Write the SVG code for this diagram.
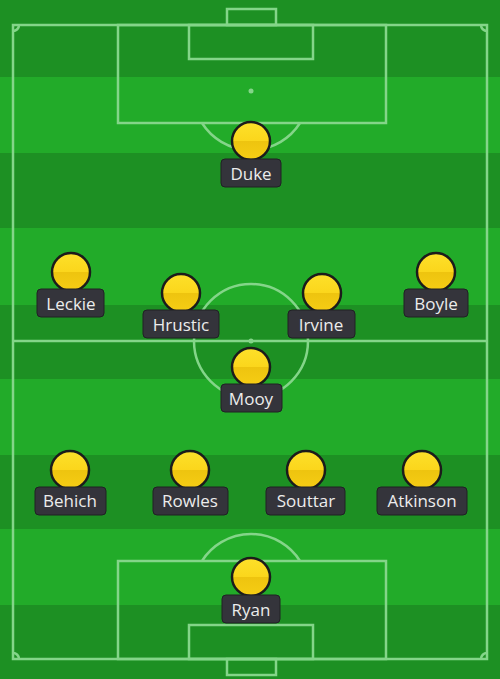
<svg xmlns="http://www.w3.org/2000/svg" width="500" height="679" viewBox="0 0 500 679">
<defs>
<style>
.ln{fill:none;stroke:#84d589;stroke-width:2.5}
.dk{fill:#1d9023}
.lt{fill:#22ab29}
.ball{fill:url(#yg);stroke:#1b1b1b;stroke-width:2.5}
.tag{fill:#34343b;stroke:#202024;stroke-width:1}
.nm{font-family:"Open Sans","Noto Sans",sans-serif;font-size:17px;fill:#ececec;text-anchor:middle}
</style>
<linearGradient id="yg" x1="0" y1="0" x2="0" y2="1">
<stop offset="0" stop-color="#fde02a"/>
<stop offset="0.49" stop-color="#fbd61c"/>
<stop offset="0.51" stop-color="#eec40f"/>
<stop offset="1" stop-color="#f6cd14"/>
</linearGradient>
</defs>
<g id="pitch">
<rect class="dk" x="0" y="0" width="500" height="77"/>
<rect class="lt" x="0" y="77" width="500" height="76"/>
<rect class="dk" x="0" y="153" width="500" height="75"/>
<rect class="lt" x="0" y="228" width="500" height="77"/>
<rect class="dk" x="0" y="305" width="500" height="74"/>
<rect class="lt" x="0" y="379" width="500" height="76"/>
<rect class="dk" x="0" y="455" width="500" height="74"/>
<rect class="lt" x="0" y="529" width="500" height="76"/>
<rect class="dk" x="0" y="605" width="500" height="74"/>
<rect class="ln" x="13" y="25" width="474" height="634"/>
<line class="ln" x1="13" y1="341" x2="487" y2="341"/>
<circle class="ln" cx="251" cy="341" r="57"/>
<circle cx="251" cy="341" r="2.5" fill="#84d589"/>
<rect class="ln" x="227" y="9" width="49" height="16"/>
<rect class="ln" x="189" y="25" width="124" height="34"/>
<rect class="ln" x="118" y="25" width="268" height="98"/>
<circle cx="251" cy="91" r="2.5" fill="#84d589"/>
<path class="ln" d="M202,123 A58,58 0 0 0 300,123"/>
<rect class="ln" x="227" y="659" width="49" height="16"/>
<rect class="ln" x="189" y="625" width="124" height="34"/>
<rect class="ln" x="118" y="561" width="268" height="98"/>
<path class="ln" d="M202,561 A58,58 0 0 1 300,561"/>
<path class="ln" d="M13,31 A6,6 0 0 0 19,25 M481,25 A6,6 0 0 0 487,31 M13,653 A6,6 0 0 1 19,659 M481,659 A6,6 0 0 1 487,653"/>
</g>
<g id="connectors"></g>
<g id="duke"><circle class="ball" cx="251" cy="141" r="19"/><rect class="tag" x="221" y="159" width="60" height="28" rx="4"/><text class="nm" x="251" y="180">Duke</text></g>
<g id="leckie"><circle class="ball" cx="71" cy="272" r="19"/><rect class="tag" x="37" y="289" width="67" height="28" rx="4"/><text class="nm" x="71" y="310">Leckie</text></g>
<g id="hrustic"><circle class="ball" cx="181" cy="293" r="19"/><rect class="tag" x="143" y="310" width="76" height="28" rx="4"/><text class="nm" x="181" y="331">Hrustic</text></g>
<g id="irvine"><circle class="ball" cx="322" cy="293" r="19"/><rect class="tag" x="288" y="310" width="67" height="28" rx="4"/><text class="nm" x="321" y="331">Irvine</text></g>
<g id="boyle"><circle class="ball" cx="436" cy="272" r="19"/><rect class="tag" x="404" y="289" width="64" height="28" rx="4"/><text class="nm" x="436" y="310">Boyle</text></g>
<g id="mooy"><circle class="ball" cx="251" cy="367" r="19"/><rect class="tag" x="221" y="384" width="61" height="28" rx="4"/><text class="nm" x="251" y="405">Mooy</text></g>
<g id="behich"><circle class="ball" cx="70" cy="470" r="19"/><rect class="tag" x="35" y="487" width="71" height="28" rx="4"/><text class="nm" x="70" y="507">Behich</text></g>
<g id="rowles"><circle class="ball" cx="190" cy="470" r="19"/><rect class="tag" x="153" y="487" width="75" height="28" rx="4"/><text class="nm" x="190" y="507">Rowles</text></g>
<g id="souttar"><circle class="ball" cx="306" cy="470" r="19"/><rect class="tag" x="266" y="487" width="79" height="28" rx="4"/><text class="nm" x="306" y="507">Souttar</text></g>
<g id="atkinson"><circle class="ball" cx="422" cy="470" r="19"/><rect class="tag" x="377" y="487" width="90" height="28" rx="4"/><text class="nm" x="422" y="507">Atkinson</text></g>
<g id="ryan"><circle class="ball" cx="251" cy="577" r="19"/><rect class="tag" x="222" y="595" width="58" height="28" rx="4"/><text class="nm" x="251" y="616">Ryan</text></g>
</svg>
